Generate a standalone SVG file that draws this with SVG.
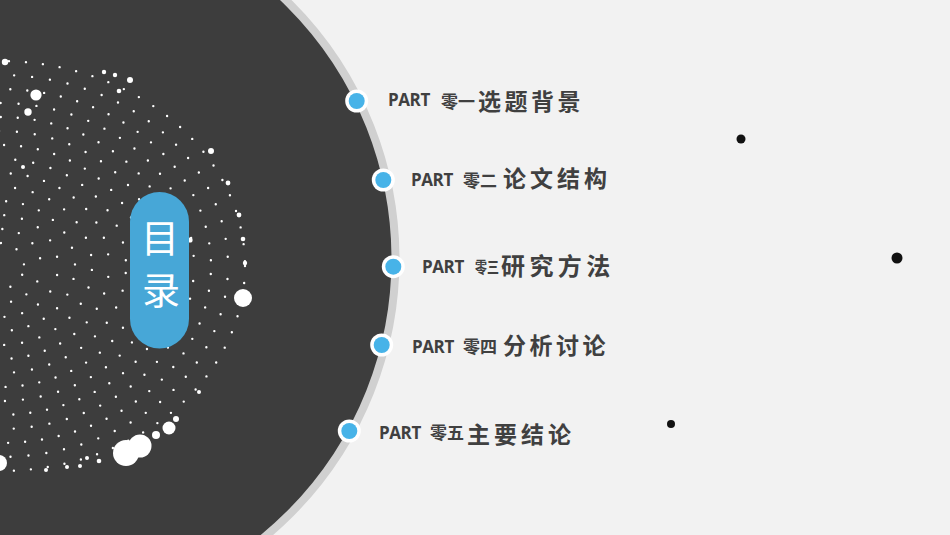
<svg xmlns="http://www.w3.org/2000/svg" width="950" height="535" viewBox="0 0 950 535">
  <style>
    .ring { fill: none; stroke: #ffffff; stroke-width: 2.4; stroke-linecap: round; }
    .wd { fill: #ffffff; }
    .bk { fill: #111111; }
    .mk-o { fill: #ffffff; }
    .mk-i { fill: #47b3e8; }
    .part { font-family: "Open Sans", "Noto Sans", "Liberation Sans", sans-serif; font-weight: 700; font-size: 17px; letter-spacing: -0.4px; fill: #404040; }
    .num { font-family: "Noto Sans CJK SC", "Noto Sans", sans-serif; font-weight: 700; font-size: 17px; fill: #404040; }
    .title { font-family: "Noto Sans CJK SC", "Noto Sans", sans-serif; font-weight: 700; font-size: 23px; letter-spacing: 3.5px; fill: #404040; }
    .badge-t { font-family: "Noto Sans CJK SC", "Noto Sans", sans-serif; font-weight: 400; font-size: 38px; fill: #ffffff; text-anchor: middle; }
  </style>

  <g id="background">
    <rect x="0" y="0" width="950" height="535" fill="#f2f2f2"/>
    <circle cx="35" cy="259" r="360.5" fill="#3d3d3d" stroke="#d0d0d0" stroke-width="8"/>
  </g>

  <g id="dot-field">
    <ellipse class="ring" cx="0" cy="266" rx="245" ry="205" stroke-dasharray="0 17" stroke-dashoffset="0"/>
    <ellipse class="ring" cx="0" cy="266" rx="228" ry="191" stroke-dasharray="0 18" stroke-dashoffset="5"/>
    <ellipse class="ring" cx="0" cy="266" rx="211" ry="177" stroke-dasharray="0 17" stroke-dashoffset="9"/>
    <ellipse class="ring" cx="0" cy="266" rx="194" ry="163" stroke-dasharray="0 18" stroke-dashoffset="3"/>
    <ellipse class="ring" cx="0" cy="266" rx="177" ry="149" stroke-dasharray="0 17" stroke-dashoffset="12"/>
    <ellipse class="ring" cx="0" cy="266" rx="160" ry="135" stroke-dasharray="0 18" stroke-dashoffset="7"/>
    <ellipse class="ring" cx="0" cy="266" rx="143" ry="121" stroke-dasharray="0 17" stroke-dashoffset="2"/>
    <ellipse class="ring" cx="0" cy="266" rx="126" ry="107" stroke-dasharray="0 18" stroke-dashoffset="11"/>
    <ellipse class="ring" cx="0" cy="266" rx="109" ry="93" stroke-dasharray="0 17" stroke-dashoffset="6"/>
    <ellipse class="ring" cx="0" cy="266" rx="92" ry="79" stroke-dasharray="0 18" stroke-dashoffset="14"/>
    <ellipse class="ring" cx="0" cy="266" rx="75" ry="65" stroke-dasharray="0 17" stroke-dashoffset="4"/>
    <ellipse class="ring" cx="0" cy="266" rx="58" ry="51" stroke-dasharray="0 18" stroke-dashoffset="9"/>
    <ellipse class="ring" cx="0" cy="266" rx="41" ry="37" stroke-dasharray="0 17" stroke-dashoffset="1"/>
    <ellipse class="ring" cx="0" cy="266" rx="24" ry="23" stroke-dasharray="0 17" stroke-dashoffset="8"/>

    <circle class="wd" cx="5" cy="62" r="3.2"/>
    <circle class="wd" cx="36" cy="95" r="5.6"/>
    <circle class="wd" cx="28" cy="112" r="3.7"/>
    <circle class="wd" cx="104" cy="72" r="2.2"/>
    <circle class="wd" cx="115" cy="75" r="2.2"/>
    <circle class="wd" cx="130" cy="80" r="3"/>
    <circle class="wd" cx="119" cy="91" r="2.3"/>
    <circle class="wd" cx="23" cy="167" r="2"/>
    <circle class="wd" cx="211" cy="151" r="3"/>
    <circle class="wd" cx="228" cy="183" r="2.4"/>
    <circle class="wd" cx="239" cy="215" r="2.4"/>
    <circle class="wd" cx="243" cy="239" r="2.3"/>
    <circle class="wd" cx="245" cy="263" r="2.2"/>
    <circle class="wd" cx="190" cy="240" r="2.6"/>
    <circle class="wd" cx="243" cy="298" r="9"/>
    <circle class="wd" cx="199" cy="392" r="2"/>
    <circle class="wd" cx="176" cy="419" r="3"/>
    <circle class="wd" cx="169" cy="428" r="6.5"/>
    <circle class="wd" cx="156" cy="435" r="4"/>
    <circle class="wd" cx="140" cy="446" r="11.5"/>
    <circle class="wd" cx="126" cy="453" r="13"/>
    <circle class="wd" cx="99" cy="461" r="2.3"/>
    <circle class="wd" cx="87" cy="458" r="2"/>
    <circle class="wd" cx="80" cy="466" r="2"/>
    <circle class="wd" cx="67" cy="467" r="2"/>
    <circle class="wd" cx="46" cy="470" r="2"/>
    <circle class="wd" cx="-1" cy="463" r="8"/>
  </g>

  <g id="toc-badge">
    <rect x="130" y="192" width="59" height="156.5" rx="29.5" ry="29.5" fill="#47a7d7"/>
    <text class="badge-t" x="160" y="252">目</text>
    <text class="badge-t" x="161" y="304">录</text>
  </g>

  <g id="connectors"></g>

  <g id="decor-dots">
    <circle class="bk" cx="741" cy="139" r="4.5"/>
    <circle class="bk" cx="897" cy="258" r="5.5"/>
    <circle class="bk" cx="671" cy="424" r="4"/>
  </g>

  <g id="item-1">
    <circle class="mk-o" cx="356.7" cy="101" r="11.5"/>
    <circle class="mk-i" cx="356.7" cy="101" r="8"/>
    <text class="part" x="388" y="106">PART</text>
    <text class="num" x="441" y="107.5">零一</text>
    <text class="title" x="478" y="110">选题背景</text>
  </g>

  <g id="item-2">
    <circle class="mk-o" cx="383.3" cy="180" r="11.5"/>
    <circle class="mk-i" cx="383.3" cy="180" r="8"/>
    <text class="part" x="411" y="185.5">PART</text>
    <text class="num" x="463" y="187">零二</text>
    <text class="title" x="503" y="187" style="letter-spacing:4px">论文结构</text>
  </g>

  <g id="item-3">
    <circle class="mk-o" cx="393.3" cy="266.7" r="11.5"/>
    <circle class="mk-i" cx="393.3" cy="266.7" r="8"/>
    <text class="part" x="422" y="273">PART</text>
    <text class="num" transform="translate(475 272.5) scale(1 1.3)" x="0" y="0" style="font-size:12px">零三</text>
    <text class="title" x="501" y="275" style="font-size:24px;letter-spacing:4.4px">研究方法</text>
  </g>

  <g id="item-4">
    <circle class="mk-o" cx="381.7" cy="345" r="11.5"/>
    <circle class="mk-i" cx="381.7" cy="345" r="8"/>
    <text class="part" x="412" y="352.5">PART</text>
    <text class="num" x="463" y="353">零四</text>
    <text class="title" x="503" y="353.5">分析讨论</text>
  </g>

  <g id="item-5">
    <circle class="mk-o" cx="349.3" cy="431" r="11.5"/>
    <circle class="mk-i" cx="349.3" cy="431" r="8"/>
    <text class="part" x="379" y="438.5">PART</text>
    <text class="num" x="430" y="439">零五</text>
    <text class="title" x="467" y="443" style="letter-spacing:4px">主要结论</text>
  </g>
</svg>
